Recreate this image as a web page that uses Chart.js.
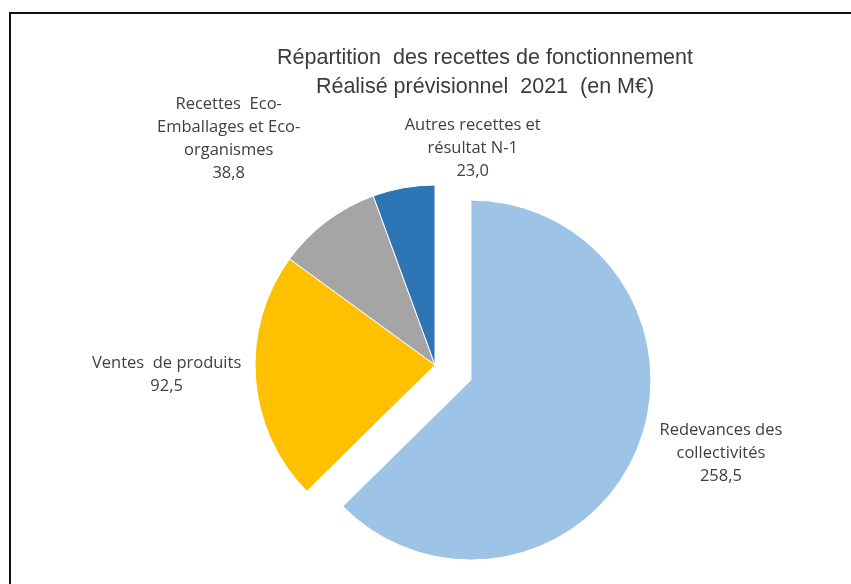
<!DOCTYPE html>
<html lang="fr">
<head>
<meta charset="utf-8">
<title>Répartition des recettes de fonctionnement</title>
<script src="https://cdn.jsdelivr.net/npm/chart.js@4"></script>
<style>
  html, body { margin: 0; padding: 0; background: #fff; }
  #wrap { position: relative; width: 851px; height: 584px; overflow: hidden; }
  #frame {
    position: absolute; left: 9px; top: 12px; right: -4px; bottom: -4px;
    border-left: 2px solid #111; border-top: 2px solid #111;
    pointer-events: none;
  }
  canvas { position: absolute; left: 0; top: 0; }
</style>
</head>
<body>
<div id="wrap">
  <canvas id="pie" width="851" height="584"></canvas>
  <div id="frame"></div>
</div>
<script>
// Données du graphique
const categories = [
  'Redevances des collectivités',
  'Ventes de produits',
  'Recettes Eco-Emballages et Eco-organismes',
  'Autres recettes et résultat N-1'
];
const values = [258.5, 92.5, 38.8, 23.0];
const labelLines = [
  ['Redevances des', 'collectivités'],
  ['Ventes  de produits'],
  ['Recettes  Eco-', 'Emballages et Eco-', 'organismes'],
  ['Autres recettes et', 'résultat N-1']
];
const titleLines = [
  'Répartition  des recettes de fonctionnement',
  'Réalisé prévisionnel  2021  (en M€)'
];

// Mise en forme
const colors = ['#9DC3E6', '#FFC000', '#A5A5A5', '#2E75B6'];
const EXPLODED = 0;       // part détachée
const EXPLODE = 39;       // distance de détachement (px)
const LABEL_GAP = 40;
const LINE_H = 23;
// décalage des étiquettes par rapport au point médian extérieur
const labelNudge = [[47, -12], [-49, -6], [-74, -50], [76, 0]];

const fmt = v => v.toFixed(1).replace('.', ',');

/**
 * Détache la part EXPLODED en la translatant le long de son angle médian
 */
const explodePlugin = {
  id: 'explode',
  beforeDatasetsDraw(chart) {
    const arc = chart.getDatasetMeta(0).data[EXPLODED];
    if (!arc || arc._exploded) return;
    const baseDraw = arc.draw;
    arc.draw = function (ctx) {
      const mid = (this.startAngle + this.endAngle) / 2;
      ctx.save();
      ctx.translate(Math.cos(mid) * EXPLODE, Math.sin(mid) * EXPLODE);
      baseDraw.call(this, ctx);
      ctx.restore();
    };
    arc._exploded = true;
  }
};

/**
 * Titre et étiquettes de données (nom + valeur)
 */
const labelsPlugin = {
  id: 'pieLabels',
  afterDatasetsDraw(chart) {
    const ctx = chart.ctx;
    const meta = chart.getDatasetMeta(0);
    ctx.save();
    ctx.textAlign = 'center';
    ctx.textBaseline = 'middle';

    // titre
    ctx.fillStyle = '#3b3b3b';
    ctx.font = '21.5px "Liberation Sans", Arial, sans-serif';
    titleLines.forEach((line, j) => ctx.fillText(line, 485, 58 + j * 29));

    // étiquettes
    ctx.fillStyle = '#404040';
    ctx.font = '16.5px "Open Sans", "Noto Sans", sans-serif';
    meta.data.forEach((arc, i) => {
      const mid = (arc.startAngle + arc.endAngle) / 2;
      const shift = i === EXPLODED ? EXPLODE : 0;
      const r = arc.outerRadius + LABEL_GAP + shift;
      const x = arc.x + Math.cos(mid) * r + labelNudge[i][0];
      const y = arc.y + Math.sin(mid) * r + labelNudge[i][1];
      const lines = [...labelLines[i], fmt(values[i])];
      lines.forEach((line, j) => {
        ctx.fillText(line, x, y + (j - (lines.length - 1) / 2) * LINE_H);
      });
    });
    ctx.restore();
  }
};

new Chart(document.getElementById('pie'), {
  type: 'pie',
  data: {
    labels: categories,
    datasets: [{
      data: values,
      backgroundColor: colors,
      borderColor: '#ffffff',
      borderWidth: 1,
      radius: 180
    }]
  },
  options: {
    responsive: false,
    animation: false,
    layout: { padding: { left: 19, right: 0, top: 146, bottom: 0 } },
    plugins: {
      legend: { display: false },
      title: { display: false },
      tooltip: { enabled: false }
    }
  },
  plugins: [explodePlugin, labelsPlugin]
});
</script>
</body>
</html>
